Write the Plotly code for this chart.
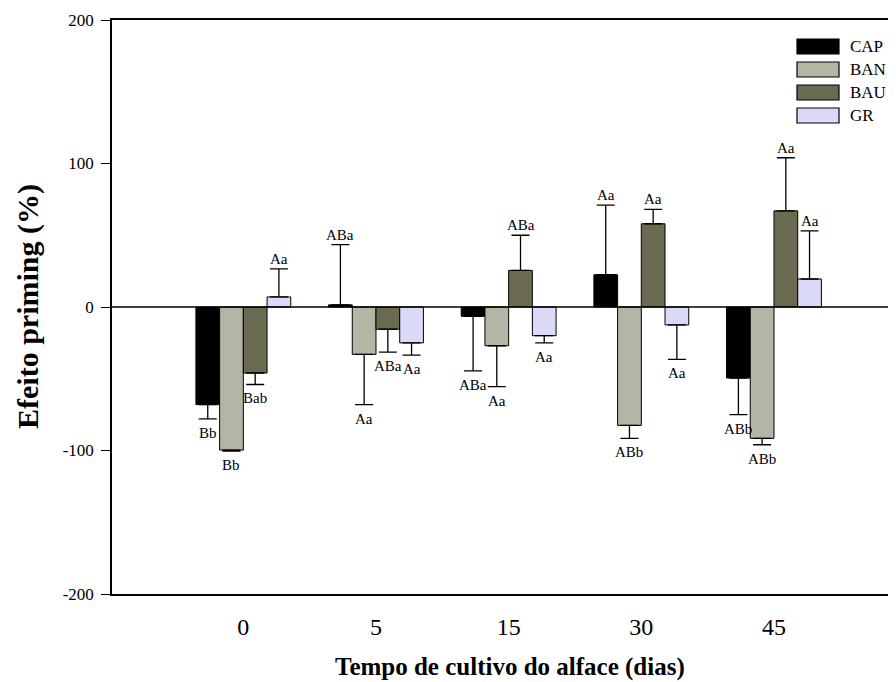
import plotly.graph_objects as go

categories = ["0", "5", "15", "30", "45"]
series = ["CAP", "BAN", "BAU", "GR"]
colors = ["#000000", "#b5b5a6", "#6b6b52", "#dadaf8"]

CAP = [-68, 1.5, -6.5, 22.5, -49.5]
CAP_err = [10, 42, 38, 48.5, 25.5]
BAN = [-99.7, -33, -27, -82.5, -91.5]
BAN_err = [0.8, 35, 28.5, 9, 4.5]
BAU = [-46, -15.5, 25.5, 58, 67]
BAU_err = [8, 16, 24.5, 10, 37]
GR = [7, -25, -20, -12.5, 19.5]
GR_err = [19.5, 8.5, 5, 24, 33.5]

CAP_lbl = ["Bb", "ABa", "ABa", "Aa", "ABb"]
BAN_lbl = ["Bb", "Aa", "Aa", "ABb", "ABb"]
BAU_lbl = ["Bab", "ABa", "ABa", "Aa", "Aa"]
GR_lbl = ["Aa", "Aa", "Aa", "Aa", "Aa"]

y_ticks = [-200, -100, 0, 100, 200]
y_ticktext = ["-200", "-100", "0", "100", "200"]

values = [CAP, BAN, BAU, GR]
errors = [CAP_err, BAN_err, BAU_err, GR_err]
labels = [CAP_lbl, BAN_lbl, BAU_lbl, GR_lbl]

# page body has an 8px margin; figure placed at (8, 8) in the window
OFF = 8
W, H = 896 - OFF, 682 - OFF
PL, PT, PB = 112, 20, 594          # plot edges in window pixels
L, T = PL - OFF, PT - OFF
R = 0
B = H - (PB - OFF)
PW, PH = W - L - R, H - T - B
FONT = "Liberation Serif, Times New Roman, serif"

def px(x):
    return (x - PL) / PW

def py(y):
    return 1 - (y - PT) / PH

xs = list(range(len(categories)))
bargap = 0.285
bw = (1 - bargap) / len(series)
unit = 132.66
x0 = -0.99
x1 = x0 + PW / unit

fig = go.Figure()
annotations = []
shapes = []
for j, (name, vals, errs, lbls, col) in enumerate(zip(series, values, errors, labels, colors)):
    plus = [e if v >= 0 else 0 for v, e in zip(vals, errs)]
    minus = [e if v < 0 else 0 for v, e in zip(vals, errs)]
    fig.add_trace(go.Bar(
        x=xs, y=vals, name=name, marker=dict(color=col, line=dict(color="black", width=1)),
        error_y=dict(type="data", symmetric=False, array=plus, arrayminus=minus,
                     color="black", thickness=1.3, width=9),
        showlegend=False,
    ))
    off = (j - (len(series) - 1) / 2) * bw
    for i, (v, e, t) in enumerate(zip(vals, errs, lbls)):
        if v >= 0:
            annotations.append(dict(x=i + off, y=v + e, xref="x", yref="y", text=t, showarrow=False,
                                    yanchor="bottom", yshift=0,
                                    font=dict(family=FONT, size=15, color="black")))
        else:
            annotations.append(dict(x=i + off, y=v - e, xref="x", yref="y", text=t, showarrow=False,
                                    yanchor="top", yshift=-4,
                                    font=dict(family=FONT, size=15, color="black")))

# custom legend
for j, (name, col) in enumerate(zip(series, colors)):
    yy = 39 + j * 23
    shapes.append(dict(type="rect", xref="paper", yref="paper",
                       x0=px(797), x1=px(839), y0=py(yy), y1=py(yy + 15),
                       fillcolor=col, line=dict(color="black", width=1.2)))
    annotations.append(dict(x=px(848), y=py(yy + 7.5), xref="paper", yref="paper", text=name,
                            showarrow=False, xanchor="left", yanchor="middle",
                            font=dict(family=FONT, size=17, color="black")))

# zero line
shapes.append(dict(type="line", xref="paper", yref="y", x0=0, x1=1, y0=0, y1=0,
                   line=dict(color="black", width=1.3)))

annotations.append(dict(x=px(28), y=py(307), xref="paper", yref="paper",
                        text="<b>Efeito priming (%)</b>", textangle=-90, showarrow=False,
                        xanchor="center", yanchor="middle",
                        font=dict(family=FONT, size=30, color="black")))
annotations.append(dict(x=px(510), y=py(667), xref="paper", yref="paper",
                        text="<b>Tempo de cultivo do alface (dias)</b>", showarrow=False,
                        xanchor="center", yanchor="middle",
                        font=dict(family=FONT, size=25, color="black")))

fig.update_layout(
    width=W, height=H,
    margin=dict(l=L, r=R, t=T, b=B),
    paper_bgcolor="white", plot_bgcolor="white",
    barmode="group", bargap=bargap, bargroupgap=0,
    annotations=annotations, shapes=shapes,
    font=dict(family=FONT, color="black"),
)
fig.update_xaxes(
    range=[x0, x1], tickmode="array", tickvals=xs, ticktext=categories,
    showline=True, linecolor="black", linewidth=1.5, mirror=True,
    ticks="", showgrid=False, zeroline=False,
    tickfont=dict(family=FONT, size=24, color="black"), ticklabelstandoff=10,
)
fig.update_yaxes(
    range=[-200, 200], tickmode="array", tickvals=y_ticks, ticktext=y_ticktext,
    showline=True, linecolor="black", linewidth=1.5, mirror=False,
    ticks="outside", ticklen=9, tickwidth=1.3, tickcolor="black",
    showgrid=False, zeroline=False,
    tickfont=dict(family=FONT, size=17, color="black"), ticklabelstandoff=4,
)

fig.write_html("out.html")
